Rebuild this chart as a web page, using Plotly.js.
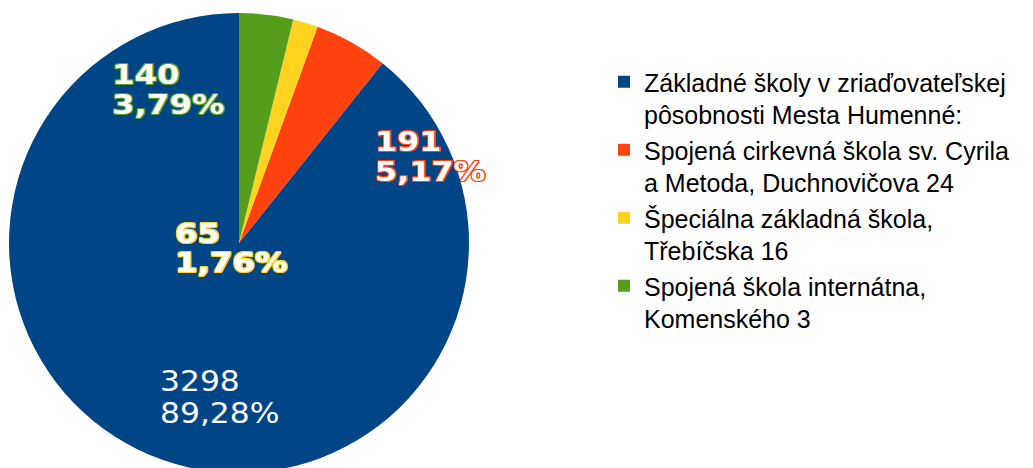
<!DOCTYPE html>
<html>
<head>
<meta charset="utf-8">
<script src="https://cdn.plot.ly/plotly-3.0.1.min.js"></script>
<style>
html, body { margin: 0; padding: 0; overflow: hidden; background: #ffffff; }
#chart { width: 1033px; height: 478px; }
</style>
</head>
<body>
<div id="chart"></div>
<script>
// Data
const categories = [
  "Základné školy v zriaďovateľskej<br>pôsobnosti Mesta Humenné:",
  "Spojená cirkevná škola sv. Cyrila<br>a Metoda, Duchnovičova 24",
  "Špeciálna základná škola,<br>Třebíčska 16",
  "Spojená škola internátna,<br>Komenského 3"
];
const values = [3298, 191, 65, 140];
const colors = ["#004586", "#ff420e", "#ffd320", "#579d1c"];

const W = 1033, H = 478;
const total = values.reduce((a, b) => a + b, 0);
const pctText = values.map(v => (v / total * 100).toFixed(2).replace('.', ',') + '%');
// largest slice ends at 12 o'clock on the left side; others follow clockwise from 12
const rotationDeg = 360 * (total - values[0]) / total;

// label placement (pixels: left x, line centres y) — styling only
const labelPlace = [
  { x: 158, y1: 381, y2: 413, bold: false, size: 28, k: 1.12 },
  { x: 373, y1: 142, y2: 172, bold: true, size: 27, k: 1.18 },
  { x: 173, y1: 233, y2: 262, bold: true, size: 27, k: 1.2 },
  { x: 110, y1: 74, y2: 104, bold: true, size: 27, k: 1.2 }
];

function outline(c) {
  return `1px 0 0 ${c}, -1px 0 0 ${c}, 0 1px 0 ${c}, 0 -1px 0 ${c}, 1px 1px 0 ${c}, -1px -1px 0 ${c}, 1px -1px 0 ${c}, -1px 1px 0 ${c}`;
}

const annotations = [];
const stretch = [];
values.forEach((v, i) => {
  const p = labelPlace[i];
  const font = {
    family: "DejaVu Sans",
    size: p.size,
    color: "#ffffff",
    weight: p.bold ? "bold" : "normal",
    shadow: p.bold ? outline(colors[i]) : "none"
  };
  [[String(v), p.y1], [pctText[i], p.y2]].forEach(([t, yy]) => {
    annotations.push({
      text: t, xref: "paper", yref: "paper",
      x: p.x / W, y: 1 - yy / H,
      xanchor: "left", yanchor: "middle",
      showarrow: false, font: font
    });
    stretch.push(p.k);
  });
});

const trace = {
  type: "pie",
  labels: categories,
  values: values,
  marker: { colors: colors, line: { width: 0 } },
  sort: false,
  direction: "counterclockwise",
  rotation: rotationDeg,
  textinfo: "none",
  hoverinfo: "none",
  domain: { x: [9 / W, 469 / W], y: [(H - 473) / H, 1 - 13 / H] }
};

const layout = {
  width: W, height: H,
  margin: { l: 0, r: 0, t: 0, b: 0 },
  paper_bgcolor: "#ffffff",
  showlegend: true,
  legend: {
    x: 604 / W, y: 1 - 59 / H, xanchor: "left", yanchor: "top",
    valign: "top",
    font: { family: "Liberation Sans, Arial, sans-serif", size: 25, color: "#000000" },
    bgcolor: "rgba(0,0,0,0)", borderwidth: 0, tracegroupgap: 0
  },
  annotations: annotations
};

function widen(el, k) {
  const b = el.getBBox();
  const x0 = b.x;
  el.setAttribute('transform', `translate(${x0},0) scale(${k},1) translate(${-x0},0)`);
}

Plotly.newPlot("chart", [trace], layout, { displayModeBar: false, staticPlot: true }).then(gd => {
  gd.querySelectorAll('.annotation-text').forEach((el, idx) => widen(el, stretch[idx] || 1));
});
</script>
</body>
</html>
